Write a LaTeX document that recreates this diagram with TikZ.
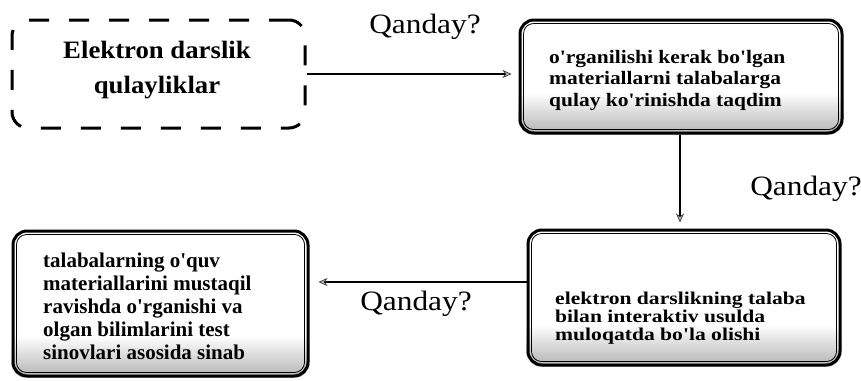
\documentclass[tikz,border=0pt]{standalone}
\usepackage{fontspec}
\setmainfont{Liberation Serif}
\newfontfamily\stretchA[FakeStretch=1.13]{Liberation Serif}
\newfontfamily\stretchB[FakeStretch=1.2]{Liberation Serif}
\newfontfamily\stretchQ[FakeStretch=1.12]{Liberation Serif}
\newfontfamily\stretchD[FakeStretch=1.07]{Liberation Serif}
\newfontfamily\plainC{Liberation Serif}
\usetikzlibrary{arrows.meta,backgrounds}
\newcommand\mylines[1]{\vtop{\lineskiplimit=-30pt\lineskip=0pt #1}}
\begin{document}
\begin{tikzpicture}[x=1pt,y=-1pt,
  boxframe/.style={draw=black, line width=3pt, rounded corners=14pt, inner sep=0pt},
  dashbox/.style={draw=black, line width=3pt, rounded corners=16pt, dash pattern=on 20pt off 20pt, inner sep=0pt},
  innerline/.style={draw=black, line width=0.8pt, rounded corners=10pt},
  arr/.style={draw=black, line width=1.6pt, -{Stealth[length=9pt,width=8pt,color=gray!40!black,fill=gray!60,line width=0.6pt]}},
  qlabel/.style={font=\stretchQ\fontsize{28}{30}\selectfont, inner sep=0pt, anchor=base},
  txt/.style={inner sep=0pt, anchor=base west},
  grass/.style={top color=white, bottom color=gray!60}]
\useasboundingbox (0,0) rectangle (861,380);

% boxes
\node[dashbox, minimum width=293pt, minimum height=108pt] (d) at (158.5,74) {};
\node[boxframe, minimum width=322pt, minimum height=113pt] (b1) at (681,76.5) {};
\node[boxframe, minimum width=312pt, minimum height=135pt] (b2) at (684,297.5) {};
\node[boxframe, minimum width=295pt, minimum height=145pt] (b3) at (160.5,303.5) {};

\foreach \b in {b1,b2,b3}{
  \draw[innerline] ([shift={(5,-5)}]\b.south west) rectangle ([shift={(-5,5)}]\b.north east);
}

\begin{pgfonlayer}{background}
\foreach \b in {b1,b2,b3}{
  \begin{scope}
    \clip[rounded corners=14pt] (\b.south west) rectangle (\b.north east);
    \shade[grass] (\b.south west) rectangle ([yshift=42pt]\b.south east);
  \end{scope}
}
\end{pgfonlayer}

% texts
\node[inner sep=0pt, anchor=base, font=\stretchD\bfseries\fontsize{25}{35}\selectfont] (dt) at (157,58)
  {\mylines{\halign{\hfil#\hfil\cr Elektron darslik\cr qulayliklar\cr}}};

\node[txt, font=\stretchA\bfseries\fontsize{19}{21.5}\selectfont] (t1) at (549,63)
  {\mylines{\hbox{o'rganilishi kerak bo'lgan}\hbox{materiallarni talabalarga}\hbox{qulay ko'rinishda taqdim}}};

\node[txt, font=\stretchB\bfseries\fontsize{18}{18}\selectfont] (t2) at (555,304)
  {\mylines{\hbox{elektron darslikning talaba}\hbox{bilan interaktiv usulda}\hbox{muloqatda bo'la olishi}}};

\node[txt, font=\plainC\bfseries\fontsize{21}{23}\selectfont] (t3) at (43,267)
  {\mylines{\hbox{talabalarning o'quv}\hbox{materiallarini mustaqil}\hbox{ravishda o'rganishi va}\hbox{olgan bilimlarini test}\hbox{sinovlari asosida sinab}}};

% connectors
\draw[arr, shorten >=7pt] (d.east) -- (b1.west |- d.east);
\draw[arr, shorten >=6pt] (b1.south -| 680,0) -- (b2.north -| 680,0);
\coordinate (m) at (0,282);
\draw[arr, shorten >=9pt] (b2.west |- m) -- (b3.east |- m);

% labels
\node[qlabel] (q1) at (425,33) {Qanday?};
\node[qlabel] (q2) at (806,195) {Qanday?};
\node[qlabel] (q3) at (416,310) {Qanday?};
\end{tikzpicture}
\end{document}
